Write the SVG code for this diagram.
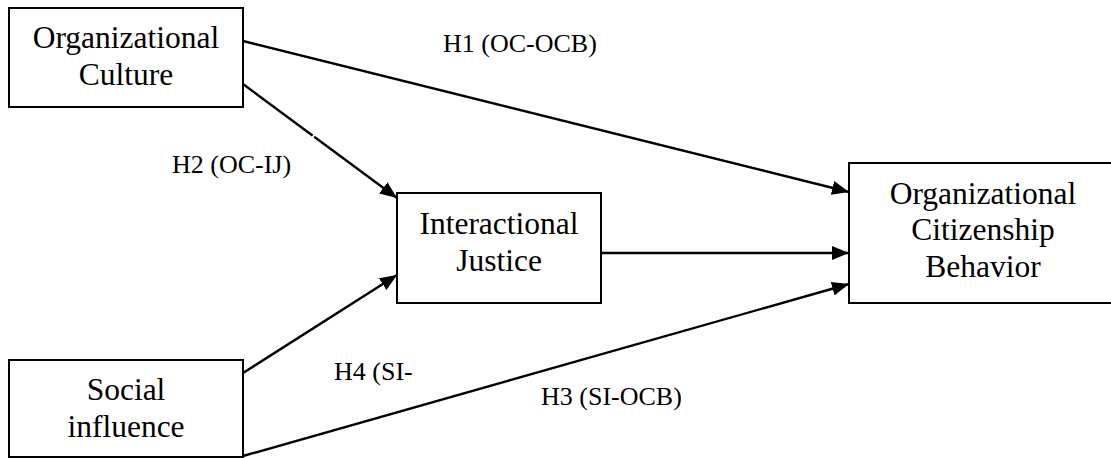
<svg xmlns="http://www.w3.org/2000/svg" width="1111" height="458" viewBox="0 0 1111 458">
<style>
.box{fill:#fff;stroke:#000;stroke-width:2}
.t{font-family:"Liberation Serif","Times New Roman",serif;font-size:31.5px;fill:#000;text-anchor:middle}
.lbl{font-family:"Liberation Serif","Times New Roman",serif;font-size:26px;fill:#000}
.c{stroke:#000;stroke-width:2.4;fill:none;marker-end:url(#ah)}
</style>
<defs>
<marker id="ah" markerUnits="userSpaceOnUse" markerWidth="18" markerHeight="14" refX="17" refY="7" orient="auto">
<path d="M0,0 L17,7 L0,14 z" fill="#000"/>
</marker>
</defs>
<rect width="1111" height="458" fill="#fff"/>
<g id="connectors">
<line class="c" x1="243" y1="84" x2="397" y2="198"/>
<line class="c" x1="243" y1="41" x2="849" y2="192"/>
<line class="c" x1="601" y1="253" x2="849" y2="253"/>
<line class="c" x1="243" y1="373" x2="397" y2="275"/>
<line class="c" x1="243" y1="456" x2="849" y2="284"/>
<line x1="312" y1="138" x2="315" y2="134" stroke="#fff" stroke-width="2"/>
</g>
<g id="oc">
<rect class="box" x="9" y="8" width="234" height="99"/>
<text class="t" x="126" y="48">Organizational</text>
<text class="t" x="126" y="85">Culture</text>
</g>
<g id="ij">
<rect class="box" x="397" y="193" width="204" height="110"/>
<text class="t" x="499" y="234">Interactional</text>
<text class="t" x="499" y="271">Justice</text>
</g>
<g id="si">
<rect class="box" x="9" y="360" width="234" height="97"/>
<text class="t" x="126" y="400">Social</text>
<text class="t" x="126" y="437">influence</text>
</g>
<g id="ocb">
<rect class="box" x="849" y="163" width="270" height="140"/>
<text class="t" x="983" y="204">Organizational</text>
<text class="t" x="983" y="240">Citizenship</text>
<text class="t" x="983" y="277">Behavior</text>
</g>
<g id="labels">
<text class="lbl" x="443" y="52">H1 (OC-OCB)</text>
<text class="lbl" x="172" y="173">H2 (OC-IJ)</text>
<text class="lbl" x="334" y="380">H4 (SI-</text>
<text class="lbl" x="541" y="405">H3 (SI-OCB)</text>
</g>
</svg>
